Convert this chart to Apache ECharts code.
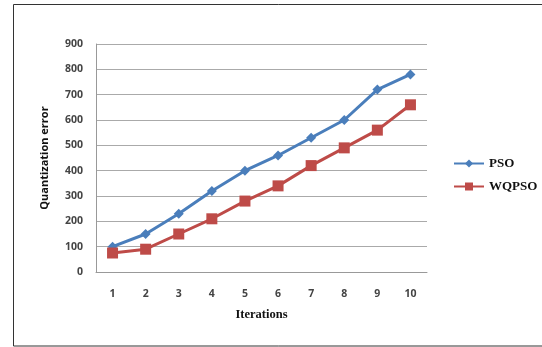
<!DOCTYPE html>
<html><head><meta charset="utf-8">
<script src="https://cdn.jsdelivr.net/npm/echarts@6/dist/echarts.min.js"></script>
<style>html,body{margin:0;padding:0;background:#fff}#c{width:542px;height:347px}</style>
</head><body><div id="c"></div>
<script>
const categories = ['1','2','3','4','5','6','7','8','9','10'];
const psoValues = [100, 150, 230, 320, 400, 460, 530, 600, 720, 780];
const wqpsoValues = [75, 90, 150, 210, 280, 340, 420, 490, 560, 660];
const yTicks = [0, 100, 200, 300, 400, 500, 600, 700, 800, 900];

const chart = echarts.init(document.getElementById('c'));
chart.setOption({
  animation: false,
  graphic: [{
    type: 'rect', shape: {x: 13.5, y: 4.5, width: 540, height: 341.5},
    style: {fill: 'none', stroke: '#333', lineWidth: 1}, silent: true
  }],
  grid: {left: 96, top: 44, width: 331, height: 228},
  legend: {
    orient: 'vertical', left: 448, top: 152, itemGap: 10,
    itemWidth: 30, itemHeight: 10,
    textStyle: {fontFamily: 'Liberation Serif', fontWeight: 'bold', fontSize: 13, color: '#111'},
    data: ['PSO', 'WQPSO']
  },
  xAxis: {
    type: 'category', data: categories, boundaryGap: true,
    name: 'Iterations', nameLocation: 'middle', nameGap: 36,
    nameTextStyle: {fontFamily: 'Liberation Serif', fontWeight: 'bold', fontSize: 12.5, color: '#111'},
    axisLine: {show: true, lineStyle: {color: '#999', width: 1}},
    axisTick: {show: false},
    axisLabel: {margin: 17, fontFamily: 'Open Sans', fontSize: 10.5, fontWeight: 'bold', color: '#444'}
  },
  yAxis: {
    type: 'value', min: yTicks[0], max: yTicks[yTicks.length-1], interval: 100,
    name: 'Quantization error', nameLocation: 'middle', nameGap: 46, nameRotate: 90,
    nameTextStyle: {fontFamily: 'Open Sans', fontWeight: 'bold', fontSize: 11, color: '#111'},
    axisLine: {show: true, lineStyle: {color: '#999', width: 1}},
    axisTick: {show: false},
    splitLine: {lineStyle: {color: '#aaa', width: 1}},
    axisLabel: {margin: 13, fontFamily: 'Open Sans', fontSize: 10.5, fontWeight: 'bold', color: '#444'}
  },
  series: [{
    name: 'PSO', type: 'line', data: psoValues,
    symbol: 'diamond', symbolSize: 10,
    lineStyle: {color: '#4A7EBB', width: 3},
    itemStyle: {color: '#4A7EBB'}
  }, {
    name: 'WQPSO', type: 'line', data: wqpsoValues,
    symbol: 'rect', symbolSize: 11,
    lineStyle: {color: '#BE4B48', width: 3},
    itemStyle: {color: '#BE4B48'}
  }]
});
</script></body></html>
